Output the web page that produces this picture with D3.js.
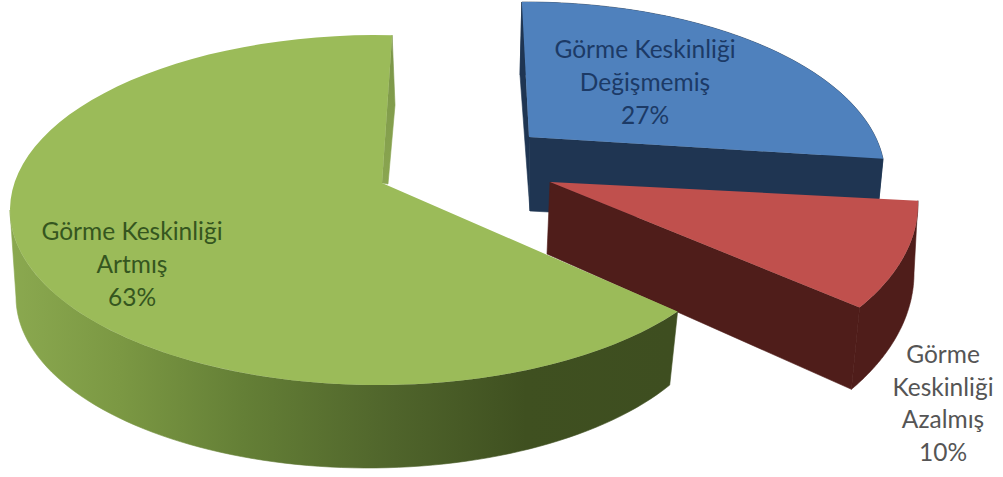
<!DOCTYPE html>
<html lang="tr">
<head>
<meta charset="utf-8">
<title>Görme Keskinliği</title>
<script src="https://cdn.jsdelivr.net/npm/d3@7"></script>
<style>
  html, body { margin: 0; padding: 0; background: #fff; }
  svg { display: block; }
  text { font-family: Lato, "Open Sans", sans-serif; }
</style>
</head>
<body>
<svg id="chart" width="1003" height="477"></svg>
<script>
// Slice values in clockwise order, starting from twelve o'clock
const categories = ["Değişmemiş", "Azalmış", "Artmış"];
const percentages = [27, 10, 63];
const labelLines = [
  ["Görme Keskinliği", "Değişmemiş"],
  ["Görme", "Keskinliği", "Azalmış"],
  ["Görme Keskinliği", "Artmış"]
];

// Colours per slice: top face, side wall, radial wall, label
const topColors = ["#4f81bd", "#c0504d", "#9bbb59"];
const wallColors = ["#1f3552", "#4f1d1a", "url(#greenWall)"];
const radialColors = ["#1f3552", "#4f1d1a", "url(#greenSliver)"];
const labelColors = ["#1c3a66", "#555555", "#35561f"];

// Projected geometry of each exploded slice: the top and bottom rims are
// ellipses, swept over the t ranges (degrees clockwise from the ellipse top).
// "cuts" lists which ends of the sweep show a radial wall (0 start, 1 end).
const layout = [
  {
    top: { cx: 525, cy: 177, rx: 360, ry: 175, t: [-0.5, 84] },
    bottom: { cx: 520, cy: 247, rx: 358, ry: 172, t: [0, 84] },
    apexTop: [529, 137], apexBottom: [530, 211],
    cuts: [0, 1],
    label: { x: 645, y: 58, dy: 33 }
  },
  {
    top: { cx: 556, cy: 204, rx: 362, ry: 190, t: [89, 123] },
    bottom: { cx: 548, cy: 273, rx: 366, ry: 208, t: [90, 124] },
    apexTop: [550, 182], apexBottom: [547, 254],
    cuts: [1],
    label: { x: 943, y: 363, dy: 32.7 }
  },
  {
    top: { cx: 378, cy: 210, rx: 368, ry: 175, t: [125.5, 362.2] },
    bottom: { cx: 368, cy: 297, rx: 352, ry: 171, t: [121, 362] },
    apexTop: [382, 183], apexBottom: [388, 184],
    cutFoot: [395, 105],
    visibleTo: 270,
    cuts: [1],
    label: { x: 132, y: 240, dy: 33 }
  }
];

const svg = d3.select("#chart");

const defs = svg.append("defs");
const greenWall = defs.append("linearGradient")
  .attr("id", "greenWall")
  .attr("gradientUnits", "userSpaceOnUse")
  .attr("x1", 15).attr("x2", 670).attr("y1", 0).attr("y2", 0);
[[0, "#8aa84f"], [0.16, "#7b9843"], [0.35, "#647f36"], [0.58, "#4f642b"], [0.78, "#3f5020"], [1, "#3e4e20"]]
  .forEach(([o, c]) => greenWall.append("stop").attr("offset", o).attr("stop-color", c));
const greenSliver = defs.append("linearGradient")
  .attr("id", "greenSliver")
  .attr("gradientUnits", "userSpaceOnUse")
  .attr("x1", 0).attr("x2", 0).attr("y1", 34).attr("y2", 184);
[[0, "#7a9448"], [1, "#8aa650"]]
  .forEach(([o, c]) => greenSliver.append("stop").attr("offset", o).attr("stop-color", c));

const pie = d3.pie().sort(null).startAngle(0).endAngle(2 * Math.PI);
const arcs = pie(percentages);
const closed = d3.line().curve(d3.curveLinearClosed);

// Point on a rim ellipse at t degrees
const rimPoint = (e, t) => {
  const r = t * Math.PI / 180;
  return [e.cx + e.rx * Math.sin(r), e.cy - e.ry * Math.cos(r)];
};

// Rim points for a run of pie angles, via a scale onto that rim's t range
const rimPoints = (e, slice, from, to) => {
  const angleToT = d3.scaleLinear().domain([slice.startAngle, slice.endAngle]).range(e.t);
  return d3.range(0, 81).map(i => rimPoint(e, angleToT(from + (to - from) * i / 80)));
};

arcs.forEach((slice, i) => {
  const g = svg.append("g").attr("class", "slice").datum(slice);
  const geo = layout[i];
  const { startAngle: a0, endAngle: a1 } = slice;

  // Outer wall: ribbon from the top rim back along the bottom rim,
  // stopping where the rim turns out of sight
  const lastAngle = e => geo.visibleTo === undefined
    ? a1
    : d3.scaleLinear().domain(e.t).range([a0, a1])(geo.visibleTo);
  const topRim = rimPoints(geo.top, slice, a0, lastAngle(geo.top));
  const bottomRim = rimPoints(geo.bottom, slice, a0, lastAngle(geo.bottom)).reverse();
  g.append("path")
    .attr("d", closed(topRim.concat(bottomRim)))
    .attr("fill", wallColors[i])
    .attr("stroke", wallColors[i])
    .attr("stroke-width", 0.6);

  // Radial walls that show through the cut of the slice
  geo.cuts.forEach(end => {
    const corner = rimPoint(geo.top, geo.top.t[end]);
    const foot = geo.cutFoot || rimPoint(geo.bottom, geo.bottom.t[end]);
    g.append("path")
      .attr("d", closed([geo.apexTop, corner, foot, geo.apexBottom]))
      .attr("fill", radialColors[i])
      .attr("stroke", radialColors[i])
      .attr("stroke-width", 0.6);
  });

  // Top face
  g.append("path")
    .attr("d", closed([geo.apexTop].concat(rimPoints(geo.top, slice, a0, a1))))
    .attr("fill", topColors[i]);
});

// Labels go last so they sit above every slice
arcs.forEach((slice, i) => {
  const { x, y, dy } = layout[i].label;
  const rows = labelLines[i].concat(`${percentages[i]}%`);
  svg.append("text")
    .attr("class", "label")
    .attr("aria-label", categories[i])
    .attr("text-anchor", "middle")
    .attr("font-size", 24.5)
    .attr("fill", labelColors[i])
    .selectAll("tspan")
    .data(rows)
    .join("tspan")
    .attr("x", x)
    .attr("y", (_, k) => y + k * dy)
    .text(d => d);
});
</script>
</body>
</html>
